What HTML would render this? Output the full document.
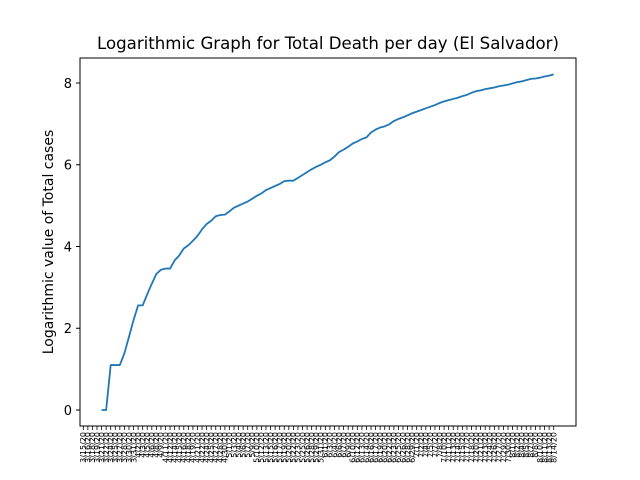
<!DOCTYPE html>
<html><head><meta charset="utf-8"><style>
body{margin:0;background:#fff;}
svg{display:block;font-family:"DejaVu Sans","Liberation Sans",sans-serif;}
</style></head><body>
<svg id="chart" width="640" height="480" viewBox="0 0 640 480">
<rect x="0" y="0" width="640" height="480" fill="#fff"/>
<text x="328" y="49" font-size="16.6" text-anchor="middle">Logarithmic Graph for Total Death per day (El Salvador)</text>
<text transform="translate(53,242) rotate(-90)" font-size="14" text-anchor="middle">Logarithmic value of Total cases</text>
<g id="yticks"></g><g id="xticks"></g>
<path id="line" fill="none" stroke="#1f77b4" stroke-width="1.8" stroke-linejoin="round"/>
<rect x="80" y="58" width="496" height="368" fill="none" stroke="#000" stroke-width="1"/>
</svg>
<script>
const startOffset = 4;
const logValues = [0,0,1.1,1.1,1.1,1.39,1.79,2.2,2.56,2.56,2.83,3.09,3.33,3.43,3.46,3.46,3.66,3.78,3.95,4.03,4.14,4.26,4.42,4.55,4.63,4.74,4.77,4.78,4.86,4.95,5.0,5.05,5.1,5.17,5.24,5.30,5.38,5.43,5.48,5.53,5.60,5.61,5.61,5.68,5.75,5.82,5.89,5.95,6.00,6.06,6.11,6.20,6.31,6.37,6.44,6.52,6.57,6.63,6.67,6.79,6.86,6.91,6.94,6.99,7.07,7.12,7.16,7.21,7.26,7.30,7.34,7.38,7.42,7.46,7.51,7.55,7.58,7.61,7.64,7.68,7.71,7.76,7.80,7.82,7.85,7.87,7.89,7.92,7.94,7.96,7.99,8.02,8.04,8.07,8.10,8.11,8.13,8.16,8.18,8.21];
const yTickValues = [0,2,4,6,8];
const tickCount = 104;
const xLabels = [];
(function(){const s=new Date(2020,2,15);for(let k=0;k<tickCount;k++){const d=new Date(s.getTime()+Math.round(k*152/(tickCount-1))*86400000);xLabels.push((d.getMonth()+1)+'/'+d.getDate()+'/20');}})();

const NS='http://www.w3.org/2000/svg';
function xPos(i){return 83.3+i*(553.7-83.3)/(tickCount-1);}
function yPos(v){return 410-v*40.875;}
const yg=document.getElementById('yticks'), xg=document.getElementById('xticks');
yTickValues.forEach(v=>{
  const l=document.createElementNS(NS,'line');
  l.setAttribute('x1',76);l.setAttribute('x2',80);l.setAttribute('y1',yPos(v));l.setAttribute('y2',yPos(v));l.setAttribute('stroke','#000');
  
  
  yg.appendChild(l);
  const t=document.createElementNS(NS,'text');
  t.setAttribute('x',72);t.setAttribute('y',yPos(v)+4.8);t.setAttribute('font-size','13');t.setAttribute('text-anchor','end');t.textContent=v;
  
  
  yg.appendChild(t);
});
xLabels.forEach((lab,k)=>{
  const x=xPos(k);
  const l=document.createElementNS(NS,'line');
  l.setAttribute('x1',x);l.setAttribute('x2',x);l.setAttribute('y1',426);l.setAttribute('y2',430);l.setAttribute('stroke','#000');l.setAttribute('stroke-width','0.8');
  
  
  xg.appendChild(l);
  const t=document.createElementNS(NS,'text');
  t.setAttribute('transform','translate('+(x+2.8)+',432) rotate(-90)');t.setAttribute('font-size','8');t.setAttribute('text-anchor','end');t.textContent=lab;
  
  
  xg.appendChild(t);
});
document.getElementById('line').setAttribute('d',logValues.map((v,i)=>(i?'L':'M')+xPos(i+startOffset).toFixed(2)+','+yPos(v).toFixed(2)).join(''));
</script>
</body></html>
